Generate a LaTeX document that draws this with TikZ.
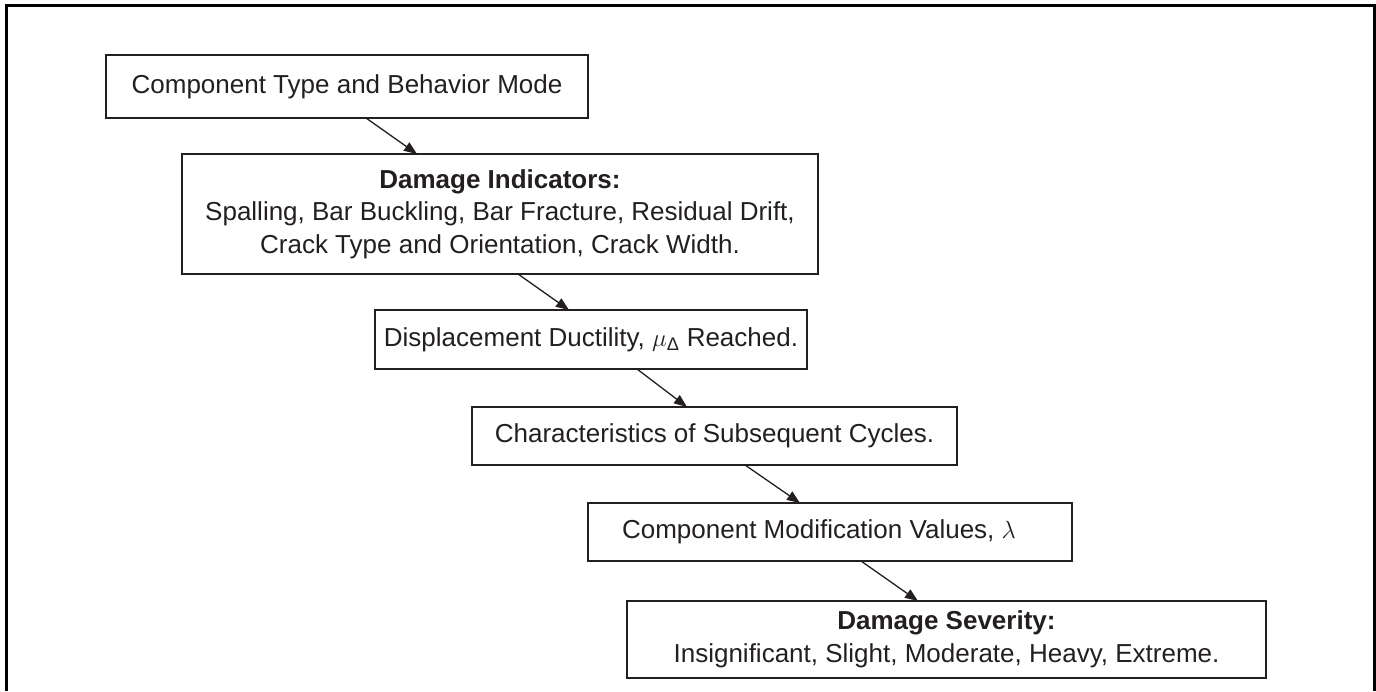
\documentclass[tikz,border=0pt]{standalone}
\usepackage{fontspec}
\setmainfont{Liberation Sans}
\usetikzlibrary{positioning, arrows.meta}
\definecolor{ink}{RGB}{35,31,32}
\tikzstyle{stage} = [rectangle, draw=ink, line width=2.6pt, inner sep=0pt, outer sep=0pt, text centered, align=center, text=ink, font=\fontsize{26pt}{32.5pt}\selectfont]
\tikzstyle{arrow} = [draw=ink, line width=1.3pt, -{Triangle[length=13pt,width=10pt]}]

\begin{document}
\begin{tikzpicture}[x=1pt, y=-1pt]
    \useasboundingbox (0,0) rectangle (1376,691);
    \draw [line width=3pt] (6,691) -- (6,5) -- (1374,5) -- (1374,691);
    \node (mode) [stage, minimum width=482pt, minimum height=63pt] at (347,86.5) {Component Type and Behavior Mode};
    \node (indicators) [stage, minimum width=636pt, minimum height=120pt, below right=36pt and 76pt of mode.south west] {\textbf{Damage Indicators:}\\Spalling, Bar Buckling, Bar Fracture, Residual Drift,\\Crack Type and Orientation, Crack Width.};
    \node (ductility) [stage, minimum width=432pt, minimum height=59pt, below right=36pt and 193pt of indicators.south west] {Displacement Ductility, $\mu$\textsubscript{Δ} Reached.};
    \node (cycles) [stage, minimum width=485pt, minimum height=58pt, below right=38pt and 97pt of ductility.south west] {Characteristics of Subsequent Cycles.};
    \node (values) [stage, minimum width=484pt, minimum height=58pt, below right=38pt and 116pt of cycles.south west] {Component Modification Values, $\lambda$\hspace*{22pt}};
    \node (severity) [stage, minimum width=639pt, minimum height=77pt, below right=40pt and 39pt of values.south west] {\textbf{Damage Severity:}\\Insignificant, Slight, Moderate, Heavy, Extreme.};
    \draw [arrow] ([xshift=260pt]mode.south west) -- ([xshift=235pt]indicators.north west);
    \draw [arrow] ([xshift=336pt]indicators.south west) -- ([xshift=194pt]ductility.north west);
    \draw [arrow] ([xshift=262pt]ductility.south west) -- ([xshift=215pt]cycles.north west);
    \draw [arrow] ([xshift=273pt]cycles.south west) -- ([xshift=212pt]values.north west);
    \draw [arrow] ([xshift=273pt]values.south west) -- ([xshift=291pt]severity.north west);
\end{tikzpicture}
\end{document}
